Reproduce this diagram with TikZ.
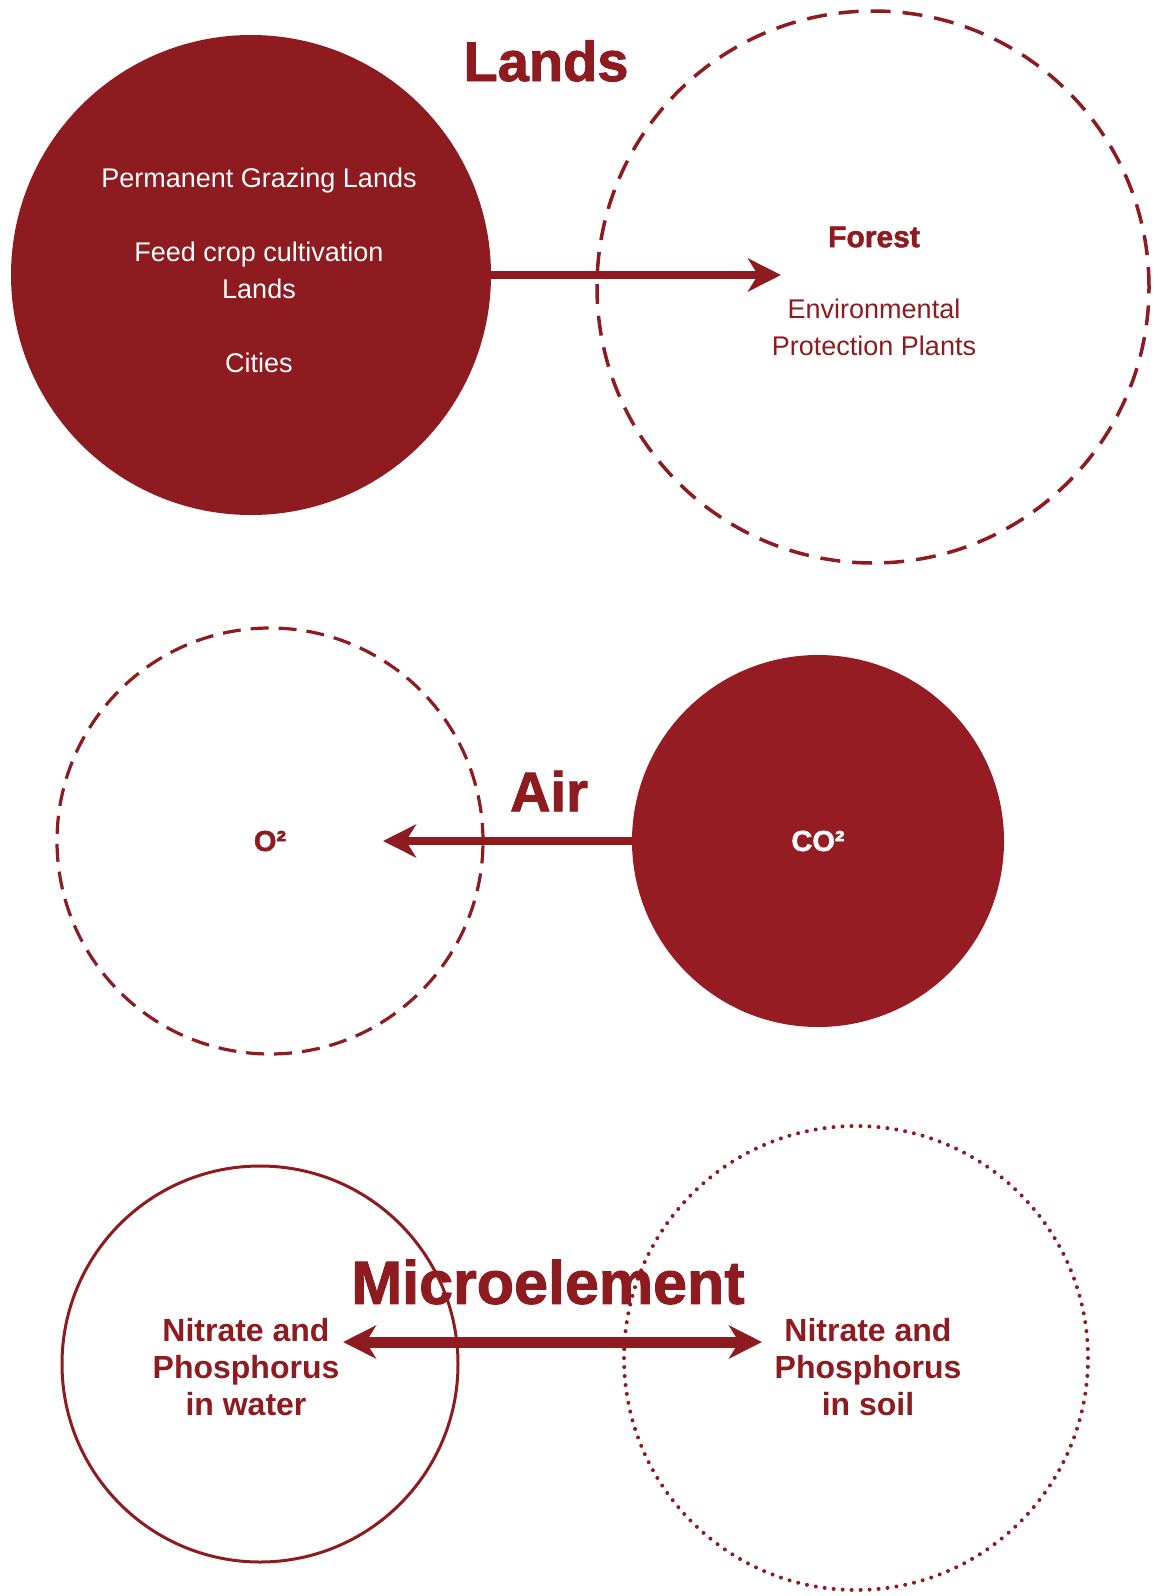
\documentclass[tikz,border=0pt]{standalone}
\usepackage{fontspec}
\setmainfont{Liberation Sans}
\newfontfamily\heavyfont[FakeBold=1.6]{Liberation Sans Bold}
\usetikzlibrary{arrows.meta}

\definecolor{wine}{RGB}{141,27,32}
\definecolor{winebright}{RGB}{150,28,35}

\begin{document}
\begin{tikzpicture}[x=0.5pt,y=-0.5pt,
  disc/.style={circle,inner sep=0pt,minimum size=#1},
  title/.style={font=\heavyfont\fontsize{28}{28}\selectfont,text=wine,inner sep=0pt},
  label/.style={align=center,inner sep=0pt,font=\fontsize{13.5}{18.5}\selectfont},
  boldlabel/.style={align=center,inner sep=0pt,text=wine,font=\bfseries\fontsize{16}{18.5}\selectfont},
  flow/.style={wine,line width=#1,-{Stealth[length=16.5pt,width=16.5pt,inset=5pt]}},
  flow/.default=4pt]
\useasboundingbox (0,0) rectangle (1153,1596);

% Lands
\node[disc=240pt,fill=wine] (lands) at (251,275) {};
\node[disc=276pt,draw=wine,line width=1.75pt,dash pattern=on 10pt off 6pt] (forest) at (873,287) {};
\node[title] (landstitle) at (546,61) {Lands};
\node[label,text=white] (landtext) at (259,270)
  {Permanent Grazing Lands\\[18.5pt] Feed crop cultivation\\ Lands\\[18.5pt] Cities};
\node[label,text=wine] (foresttext) at (874,291)
  {{\heavyfont\fontsize{15}{18.5}\selectfont Forest}\\[17pt] Environmental\\ Protection Plants};
\coordinate (landtip) at (781,275);
\draw[flow=3.75pt] (lands.east) -- (landtip);

% Air
\node[disc=213pt,draw=wine,line width=1.6pt,dash pattern=on 9pt off 5pt] (oxygen) at (270,841) {};
\node[disc=186pt,fill=winebright] (carbon) at (818,841) {};
\node[title] (airtitle) at (549,791) {Air};
\node[boldlabel,font=\heavyfont\fontsize{14.5}{18}\selectfont] (otext) at (270,841) {O²};
\node[boldlabel,text=white,font=\heavyfont\fontsize{14.5}{18}\selectfont] (cotext) at (818,841) {CO²};
\coordinate (airtip) at (383,841);
\draw[flow=4pt] (carbon.west) -- (airtip);

% Microelement
\node[disc=198pt,draw=wine,line width=1.5pt] (water) at (260,1364) {};
\node[disc=232pt,draw=wine,line width=2pt,line cap=round,dash pattern=on 0pt off 4.5pt] (soil) at (856,1358) {};
\node[title,font=\heavyfont\fontsize{30.5}{31}\selectfont] (microtitle) at (548,1282) {Microelement};
\node[boldlabel] (watertext) at (246,1367) {Nitrate and\\ Phosphorus\\ in water};
\node[boldlabel] (soiltext) at (868,1367) {Nitrate and\\ Phosphorus\\ in soil};
\coordinate (waterend) at (343,1342);
\coordinate (soilend) at (762,1342);
\draw[wine,line width=5.5pt,{Stealth[length=16.5pt,width=16.5pt,inset=5pt]}-{Stealth[length=16.5pt,width=16.5pt,inset=5pt]}]
  (waterend) -- (soilend);

\end{tikzpicture}
\end{document}
